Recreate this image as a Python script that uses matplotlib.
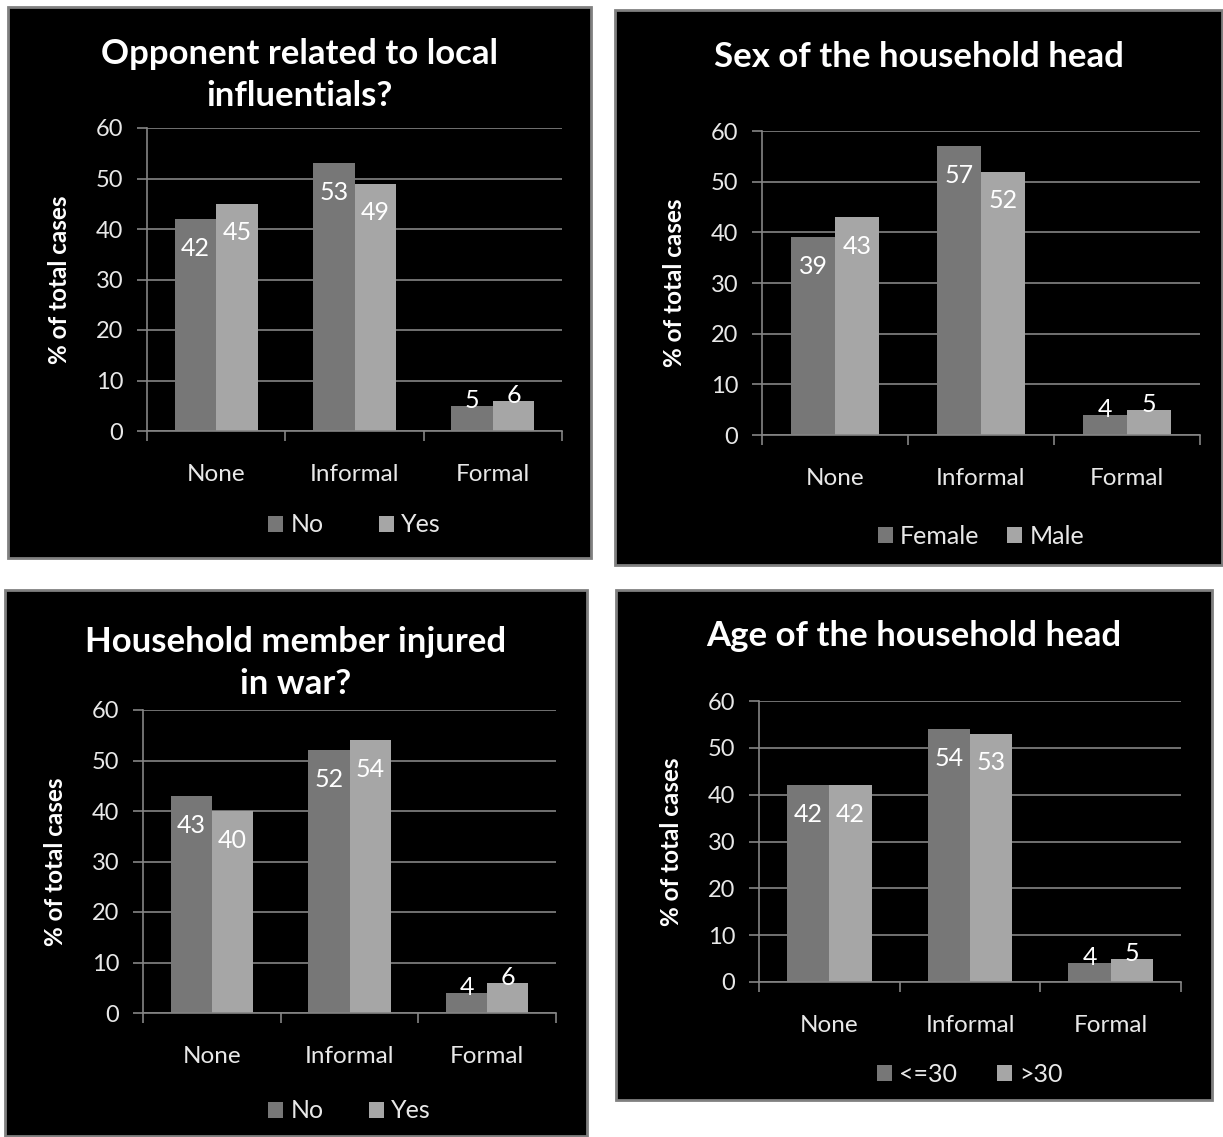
import matplotlib
matplotlib.use("Agg")
import numpy as np
from matplotlib import pyplot as plt
from matplotlib.patches import Rectangle

plt.rcParams['font.family'] = ['Lato', 'DejaVu Sans']

categories = ['None', 'Informal', 'Formal']

titles = ['Opponent related to local\ninfluentials?',
          'Sex of the household head',
          'Household member injured\nin war?',
          'Age of the household head']
series_names = [['No', 'Yes'], ['Female', 'Male'], ['No', 'Yes'], ['<=30', '>30']]

influential_no = [42, 53, 5]
influential_yes = [45, 49, 6]
female = [39, 57, 4]
male = [43, 52, 5]
injured_no = [43, 52, 4]
injured_yes = [40, 54, 6]
age_young = [42, 54, 4]
age_old = [42, 53, 5]

values = [(influential_no, influential_yes), (female, male),
          (injured_no, injured_yes), (age_young, age_old)]

W, H = 1223, 1137

# pixel layout: panel box, axes box (x0, ytop, x1, ybot), title y, legend y, legend spacing
layout = [
    ((8, 7, 591, 558), (147, 128, 562, 431), 75, 525, 2.2),
    ((615, 10, 1222, 565), (762, 131, 1200, 435), 57, 536, 1.1),
    ((5, 590, 587, 1136), (143, 710, 556, 1013), 663, 1111, 1.8),
    ((616, 590, 1212, 1100), (759, 701, 1181, 982), 636, 1074, 1.6),
]

dark = '#777777'
light = '#a6a6a6'
line_col = '#858585'
txt = '#e8e8e8'

fig = plt.figure(figsize=(W / 100, H / 100), dpi=100, facecolor='white')

for i in range(4):
    pbox, abox, title_y, legend_y, colsp = layout[i]
    px0, py0, px1, py1 = pbox
    fig.patches.append(Rectangle((px0 / W, 1 - py1 / H), (px1 - px0) / W, (py1 - py0) / H,
                                 transform=fig.transFigure, facecolor='black',
                                 edgecolor='#808080', linewidth=2, zorder=-5))

    ax0, atop, ax1, abot = abox
    ax = fig.add_axes([ax0 / W, 1 - abot / H, (ax1 - ax0) / W, (abot - atop) / H])
    ax.set_facecolor('black')

    x = np.arange(len(categories))
    w = 0.3
    a, b = values[i]
    bars_a = ax.bar(x - w / 2, a, w, color=dark, label=series_names[i][0], zorder=3)
    bars_b = ax.bar(x + w / 2, b, w, color=light, label=series_names[i][1], zorder=3)

    for bars, vals in [(bars_a, a), (bars_b, b)]:
        for bar, v in zip(bars, vals):
            off = -21 if v >= 10 else 4
            ax.annotate(str(v), (bar.get_x() + bar.get_width() / 2, v),
                        xytext=(0, off), textcoords='offset points',
                        ha='center', va='center', color='white', fontsize=18, zorder=4)

    ax.set_xlim(-0.5, 2.5)
    ax.set_ylim(0, 60)
    ax.set_yticks(range(0, 61, 10))
    ax.yaxis.grid(True, color=line_col, linewidth=1.2, zorder=1)
    ax.set_xticks([-0.5, 0.5, 1.5, 2.5])
    ax.set_xticklabels([])
    ax.set_xticks(x, minor=True)
    ax.set_xticklabels(categories, minor=True)
    ax.tick_params(axis='x', which='major', direction='out', length=7, color=line_col, width=1.2)
    ax.tick_params(axis='x', which='minor', length=0, pad=24, labelsize=17.5, labelcolor=txt)
    ax.tick_params(axis='y', direction='out', length=7, color=line_col, width=1.2,
                   pad=10, labelsize=17, labelcolor=txt)
    for s in ['top', 'right']:
        ax.spines[s].set_visible(False)
    for s in ['left', 'bottom']:
        ax.spines[s].set_color(line_col)
        ax.spines[s].set_linewidth(1.2)
    ax.spines['bottom'].set_zorder(5)

    ax.set_ylabel('% of total cases', color='white', fontsize=17.5, fontweight='bold')
    ax.yaxis.set_label_coords(-76 / (ax1 - ax0), 0.5)

    fig.text((px0 + px1) / 2 / W, 1 - title_y / H, titles[i], ha='center', va='center',
             color='white', fontsize=25, fontweight='bold', linespacing=1.4)

    ax.legend(loc='center', bbox_to_anchor=(0.5, (abot - legend_y) / (abot - atop)),
              ncol=2, frameon=False, fontsize=18, labelcolor=txt,
              handlelength=0.6, handleheight=0.6, handletextpad=0.3, columnspacing=colsp)

fig.savefig('out.png', dpi=100, facecolor='white')
